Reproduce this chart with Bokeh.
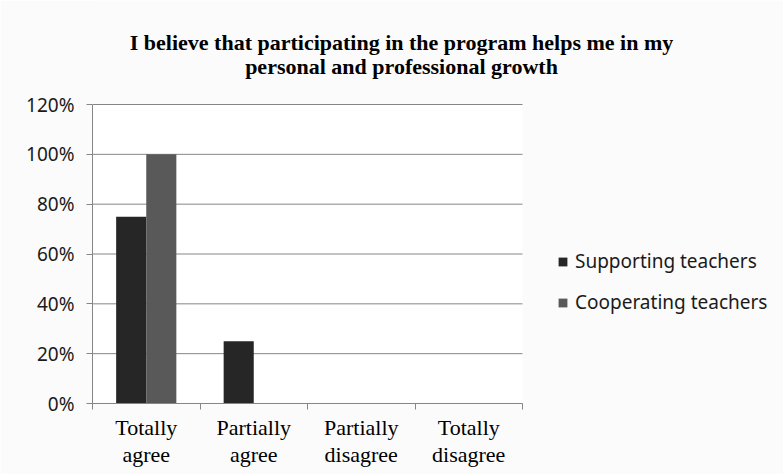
from bokeh.plotting import figure
from bokeh.models import (ColumnDataSource, Range1d, LinearAxis, FixedTicker, BoxAnnotation,
                          NumeralTickFormatter, Legend, LegendItem, Label)
from bokeh.embed import file_html
from bokeh.resources import INLINE

# ---- data ----
categories = ["Totally\nagree", "Partially\nagree", "Partially\ndisagree", "Totally\ndisagree"]
supporting = [0.75, 0.25, 0.0, 0.0]
cooperating = [1.0, 0.0, 0.0, 0.0]
series_names = ["Supporting teachers", "Cooperating teachers"]
y_ticks = [0, 0.2, 0.4, 0.6, 0.8, 1.0, 1.2]
title_lines = ["I believe that participating in the program helps me in my",
               "personal and professional growth"]

n = len(categories)
y_max = y_ticks[-1]
centers = [i + 0.5 for i in range(n)]
edges = list(range(n + 1))
BAR_W = 0.28
source = ColumnDataSource(dict(
    xs=[c - BAR_W / 2 for c in centers], xc=[c + BAR_W / 2 for c in centers],
    sup=supporting, coop=cooperating))

GRID = "#868686"
SANS = "Noto Sans"
SERIF = "Liberation Serif"
BG = "#fbfbfb"

# ---- layout (pixels) ----
W, H = 783, 474
LEFT, BOTTOM = 92, 71            # axis panels
PLOT_PX_W, PLOT_PX_H = 430, 299  # size of the chart's plot area
# the frame continues right and up, so title and legend can sit in it
x_end = n * (W - LEFT) / PLOT_PX_W
y_end = y_max * (H - BOTTOM) / PLOT_PX_H
px_x = lambda px: (px - LEFT) / PLOT_PX_W * n          # page x -> data x
px_y = lambda py: (H - BOTTOM - py) / PLOT_PX_H * y_max  # page y -> data y

p = figure(width=W, height=H, x_range=Range1d(0, x_end), y_range=Range1d(0, y_end),
           output_backend="svg", toolbar_location=None, x_axis_type=None, y_axis_type=None,
           min_border_left=LEFT, min_border_right=0, min_border_top=0, min_border_bottom=BOTTOM,
           border_fill_color=BG, background_fill_color=BG, outline_line_color=None,
           title=None)

# white plot area
p.add_layout(BoxAnnotation(left=0, right=n, bottom=0, top=y_max, fill_color="white", fill_alpha=1,
                           line_color=None, level="underlay"))

# title (two centred lines)
for txt, py in zip(title_lines, [42, 66]):
    p.add_layout(Label(x=px_x(401), y=px_y(py), text=txt, text_align="center", text_baseline="middle",
                       text_font=SERIF, text_font_style="bold", text_font_size="22px",
                       text_color="#000000"))

# gridlines over the plot area only
p.xgrid.grid_line_color = None
p.ygrid.grid_line_color = None
p.segment(x0=[0] * len(y_ticks), x1=[n] * len(y_ticks), y0=y_ticks, y1=y_ticks,
          line_color=GRID, line_width=1)

# bars
r1 = p.vbar(x="xs", top="sup", width=BAR_W, source=source, fill_color="#262626", line_color=None)
r2 = p.vbar(x="xc", top="coop", width=BAR_W, source=source, fill_color="#595959", line_color=None)

# y axis
yax = LinearAxis(ticker=FixedTicker(ticks=y_ticks), bounds=(0, y_max),
                 formatter=NumeralTickFormatter(format="0%"),
                 axis_line_color=GRID, major_tick_line_color=GRID, major_tick_in=0, major_tick_out=6,
                 minor_tick_line_color=None, major_label_text_font=SANS,
                 major_label_text_font_size="19px", major_label_text_color="#1a1a1a",
                 major_label_standoff=12)
p.add_layout(yax, "left")

# x axis: labels at category centres, tick marks at category edges
xax = LinearAxis(ticker=FixedTicker(ticks=centers, minor_ticks=edges), bounds=(0, n),
                 major_label_overrides={c: lab for c, lab in zip(centers, categories)},
                 axis_line_color=GRID, major_tick_line_color=None,
                 minor_tick_line_color=GRID, minor_tick_in=0, minor_tick_out=6,
                 major_label_text_font=SERIF, major_label_text_font_size="22px",
                 major_label_text_color="#000000", major_label_standoff=5,
                 major_label_text_line_height=1.1)
p.add_layout(xax, "below")

# legend (inside the frame, to the right of the plot area)
legend = Legend(items=[LegendItem(label=series_names[0], renderers=[r1]),
                       LegendItem(label=series_names[1], renderers=[r2])],
                location=(465, 88), orientation="vertical",
                label_text_font=SANS, label_text_font_size="19px", label_text_color="#1a1a1a",
                glyph_width=11, glyph_height=11, label_standoff=7, spacing=15,
                label_height=20, padding=0, margin=0,
                border_line_color=None, background_fill_alpha=0)
p.add_layout(legend, "center")

open("out.html", "w").write(file_html(p, INLINE))
